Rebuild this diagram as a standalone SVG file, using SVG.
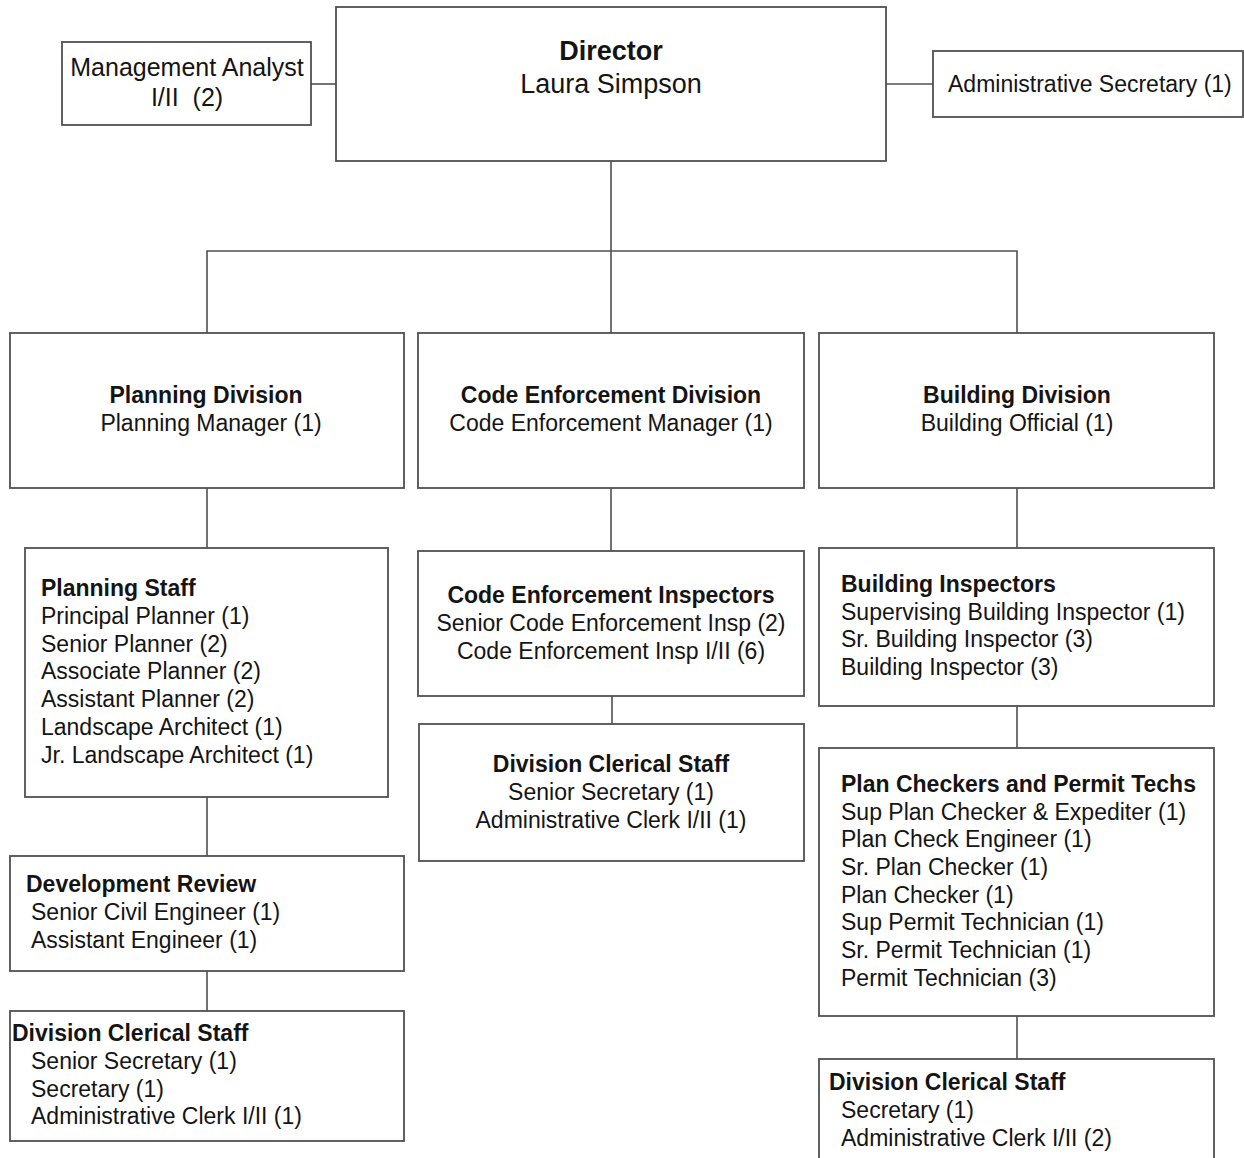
<svg xmlns="http://www.w3.org/2000/svg" width="1244" height="1158" viewBox="0 0 1244 1158">
  <style>
    .box { fill: #ffffff; stroke: #505050; stroke-width: 1.8; }
    .wire { fill: none; stroke: #505050; stroke-width: 1.6; }
    text { font-family: "Liberation Sans", Arial, sans-serif; font-size: 23px; fill: #141414; }
    .b { font-weight: bold; }
    .c { text-anchor: middle; }
    .dir { font-size: 27px; }
  </style>
  <rect width="1244" height="1158" fill="#ffffff"/>

  <!-- connectors -->
  <g id="connectors">
    <line class="wire" x1="311" y1="84" x2="336" y2="84"/>
    <line class="wire" x1="886" y1="84" x2="933" y2="84"/>
    <line class="wire" x1="611" y1="161" x2="611" y2="251"/>
    <polyline class="wire" points="207,333 207,251 1017,251 1017,333"/>
    <line class="wire" x1="611" y1="251" x2="611" y2="333"/>
    <line class="wire" x1="207" y1="488" x2="207" y2="548"/>
    <line class="wire" x1="207" y1="797" x2="207" y2="856"/>
    <line class="wire" x1="207" y1="971" x2="207" y2="1011"/>
    <line class="wire" x1="611" y1="488" x2="611" y2="551"/>
    <line class="wire" x1="612" y1="696" x2="612" y2="724"/>
    <line class="wire" x1="1017" y1="488" x2="1017" y2="548"/>
    <line class="wire" x1="1017" y1="706" x2="1017" y2="748"/>
    <line class="wire" x1="1017" y1="1016" x2="1017" y2="1059"/>
  </g>

  <!-- top level -->
  <g id="director">
    <rect class="box" x="336" y="7" width="550" height="154"/>
    <text class="b c dir" x="611" y="60">Director</text>
    <text class="c dir" x="611" y="93">Laura Simpson</text>
  </g>
  <g id="management-analyst">
    <rect class="box" x="62" y="42" width="249" height="83"/>
    <text class="c" x="187" y="76" style="font-size:25px">Management Analyst</text>
    <text class="c" x="187" y="106" style="font-size:25px" xml:space="preserve">I/II  (2)</text>
  </g>
  <g id="admin-secretary">
    <rect class="box" x="933" y="51" width="310" height="66"/>
    <text x="948" y="92">Administrative Secretary (1)</text>
  </g>

  <!-- divisions -->
  <g id="planning-division">
    <rect class="box" x="10" y="333" width="394" height="155"/>
    <text class="b c" x="206" y="403">Planning Division</text>
    <text class="c" x="211" y="431">Planning Manager (1)</text>
  </g>
  <g id="code-enforcement-division">
    <rect class="box" x="418" y="333" width="386" height="155"/>
    <text class="b c" x="611" y="403">Code Enforcement Division</text>
    <text class="c" x="611" y="431">Code Enforcement Manager (1)</text>
  </g>
  <g id="building-division">
    <rect class="box" x="819" y="333" width="395" height="155"/>
    <text class="b c" x="1017" y="403">Building Division</text>
    <text class="c" x="1017" y="431">Building Official (1)</text>
  </g>

  <!-- planning branch -->
  <g id="planning-staff">
    <rect class="box" x="25" y="548" width="363" height="249"/>
    <text class="b" x="41" y="596">Planning Staff</text>
    <text x="41" y="624">Principal Planner (1)</text>
    <text x="41" y="652">Senior Planner (2)</text>
    <text x="41" y="679">Associate Planner (2)</text>
    <text x="41" y="707">Assistant Planner (2)</text>
    <text x="41" y="735">Landscape Architect (1)</text>
    <text x="41" y="763">Jr. Landscape Architect (1)</text>
  </g>
  <g id="development-review">
    <rect class="box" x="10" y="856" width="394" height="115"/>
    <text class="b" x="26" y="892">Development Review</text>
    <text x="31" y="920">Senior Civil Engineer (1)</text>
    <text x="31" y="948">Assistant Engineer (1)</text>
  </g>
  <g id="planning-clerical">
    <rect class="box" x="10" y="1011" width="394" height="130"/>
    <text class="b" x="12" y="1041">Division Clerical Staff</text>
    <text x="31" y="1069">Senior Secretary (1)</text>
    <text x="31" y="1097">Secretary (1)</text>
    <text x="31" y="1124">Administrative Clerk I/II (1)</text>
  </g>

  <!-- code enforcement branch -->
  <g id="code-enforcement-inspectors">
    <rect class="box" x="418" y="551" width="386" height="145"/>
    <text class="b c" x="611" y="603">Code Enforcement Inspectors</text>
    <text class="c" x="611" y="631">Senior Code Enforcement Insp (2)</text>
    <text class="c" x="611" y="659">Code Enforcement Insp I/II (6)</text>
  </g>
  <g id="code-enforcement-clerical">
    <rect class="box" x="419" y="724" width="385" height="137"/>
    <text class="b c" x="611" y="772">Division Clerical Staff</text>
    <text class="c" x="611" y="800">Senior Secretary (1)</text>
    <text class="c" x="611" y="828">Administrative Clerk I/II (1)</text>
  </g>

  <!-- building branch -->
  <g id="building-inspectors">
    <rect class="box" x="819" y="548" width="395" height="158"/>
    <text class="b" x="841" y="592">Building Inspectors</text>
    <text x="841" y="620">Supervising Building Inspector (1)</text>
    <text x="841" y="647">Sr. Building Inspector (3)</text>
    <text x="841" y="675">Building Inspector (3)</text>
  </g>
  <g id="plan-checkers">
    <rect class="box" x="819" y="748" width="395" height="268"/>
    <text class="b" x="841" y="792">Plan Checkers and Permit Techs</text>
    <text x="841" y="820">Sup Plan Checker &amp; Expediter (1)</text>
    <text x="841" y="847">Plan Check Engineer (1)</text>
    <text x="841" y="875">Sr. Plan Checker (1)</text>
    <text x="841" y="903">Plan Checker (1)</text>
    <text x="841" y="930">Sup Permit Technician (1)</text>
    <text x="841" y="958">Sr. Permit Technician (1)</text>
    <text x="841" y="986">Permit Technician (3)</text>
  </g>
  <g id="building-clerical">
    <rect class="box" x="819" y="1059" width="395" height="120"/>
    <text class="b" x="829" y="1090">Division Clerical Staff</text>
    <text x="841" y="1118">Secretary (1)</text>
    <text x="841" y="1146">Administrative Clerk I/II (2)</text>
  </g>
</svg>
